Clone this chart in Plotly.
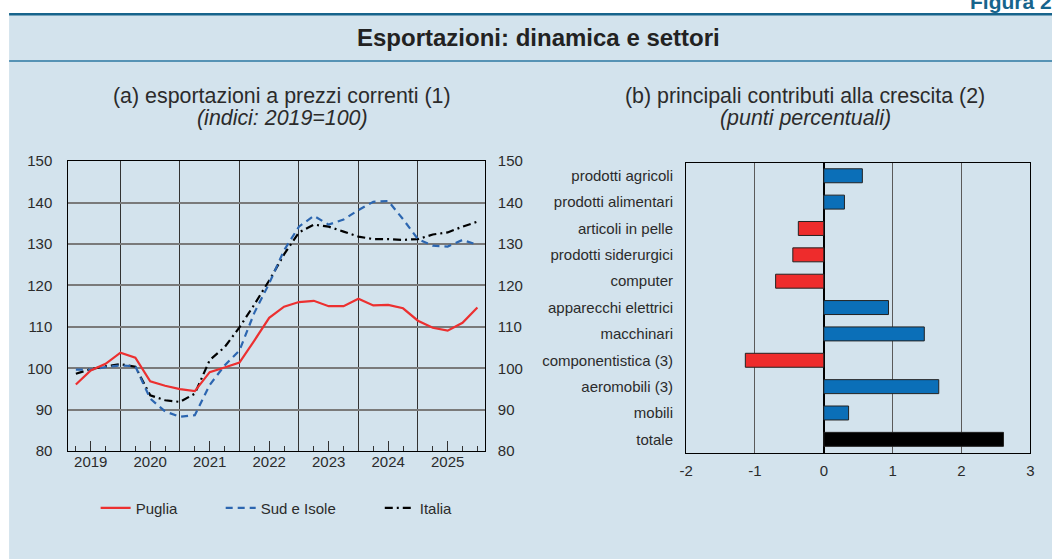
import plotly.graph_objects as go

# ---------------- data ----------------
years = ["2019", "2020", "2021", "2022", "2023", "2024", "2025"]
quarter_index = list(range(28))  # quarterly observations

puglia = [96.1, 99.5, 101.1, 103.8, 102.6, 96.9, 95.8, 95.0, 94.5, 99.1,
          100.2, 101.4, 106.7, 112.2, 114.9, 116.0, 116.3, 115.0, 115.0, 116.8,
          115.2, 115.3, 114.5, 111.5, 109.8, 109.1, 111.0, 114.7]
sud_isole = [99.7, 99.7, 100.3, 100.7, 100.5, 92.7, 89.6, 88.3, 88.7, 96.0,
             100.7, 104.3, 113.4, 120.5, 128.5, 134.2, 136.8, 134.7, 135.9, 138.2,
             140.2, 140.4, 136.0, 131.2, 129.6, 129.4, 131.0, 129.8]
italia = [98.7, 99.8, 100.5, 101.0, 100.4, 93.5, 92.3, 91.9, 93.9, 102.0,
          105.1, 109.9, 115.4, 121.2, 127.5, 132.8, 134.7, 134.2, 133.0, 131.8,
          131.2, 131.2, 131.0, 131.2, 132.3, 132.8, 134.2, 135.4]

y_ticks = [80, 90, 100, 110, 120, 130, 140, 150]

sectors = ["prodotti agricoli", "prodotti alimentari", "articoli in pelle",
           "prodotti siderurgici", "computer", "apparecchi elettrici", "macchinari",
           "componentistica (3)", "aeromobili (3)", "mobili", "totale"]
contributi = [0.56, 0.30, -0.37, -0.45, -0.70, 0.94, 1.46, -1.14, 1.67, 0.36, 2.61]
x_ticks_b = [-2, -1, 0, 1, 2, 3]

# ---------------- styling ----------------
# photographed frame: page content appears offset by 8px and is fitted to 1052x559,
# so layout positions (given in target pixels) are converted here
OFF = 8
SX, SY = 1.011, 575 / 559
W, H = 1060, 567
FONT = "Arial, Liberation Sans, sans-serif"
TXT = "#2b2b2b"
BG = "#d3e3ed"
RED = "#ec3030"
BLUE = "#2c66b0"
BAR_BLUE = "#0b6fb8"
BAR_RED = "#ee2c2c"


def px(x):
    """target pixel -> paper x"""
    return (x * SX - OFF) / W


def py(y):
    """target pixel -> paper y"""
    return 1 - (y * SY - OFF) / H


year_pos = [1 + 4 * i for i in range(len(years))]
year_bounds = [3 + 4 * i for i in range(len(years) - 1)]

fig = go.Figure()

fig.add_trace(go.Scatter(x=quarter_index, y=italia, name="Italia", mode="lines",
                         line=dict(color="#000000", width=2.2, dash="8px,4px,2px,4px"),
                         legend="legend3", xaxis="x", yaxis="y"))
fig.add_trace(go.Scatter(x=quarter_index, y=sud_isole, name="Sud e Isole", mode="lines",
                         line=dict(color=BLUE, width=2.2, dash="7px,5px"),
                         legend="legend2", xaxis="x", yaxis="y"))
fig.add_trace(go.Scatter(x=quarter_index, y=puglia, name="Puglia", mode="lines",
                         line=dict(color=RED, width=2.2),
                         legend="legend", xaxis="x", yaxis="y"))
# invisible helper trace that activates the overlay axes (year labels, right-hand y scale)
fig.add_trace(go.Scatter(x=quarter_index, y=puglia, mode="lines", opacity=0,
                         showlegend=False, hoverinfo="skip",
                         line=dict(width=0), xaxis="x2", yaxis="y2"))

bar_colors = ["#000000" if s == "totale" else (BAR_BLUE if v > 0 else BAR_RED)
              for s, v in zip(sectors, contributi)]
fig.add_trace(go.Bar(x=contributi, y=sectors, orientation="h",
                     marker=dict(color=bar_colors, line=dict(color="#222222", width=1)),
                     showlegend=False, xaxis="x3", yaxis="y3"))

left_dom_x = [px(69.3), px(485.5)]
left_dom_y = [py(451.0), py(160.3)]
right_dom_x = [px(686.7), px(1030.7)]
right_dom_y = [py(452.3), py(161.7)]

tickfont = dict(family=FONT, size=15, color=TXT)

fig.update_layout(
    width=W, height=H,
    margin=dict(l=0, r=0, t=0, b=0),
    paper_bgcolor="#ffffff",
    plot_bgcolor="#ffffff",
    font=dict(family=FONT, color=TXT),
    bargap=0.47,
    xaxis=dict(domain=left_dom_x, range=[-0.5, 27.5], tickmode="array",
               tickvals=year_bounds, showticklabels=False, ticks="",
               showgrid=True, gridcolor="#333333", gridwidth=1,
               zeroline=False, showline=True, linecolor="#000000", linewidth=1.2,
               mirror=True, anchor="y"),
    yaxis=dict(domain=left_dom_y, range=[80, 150], tickmode="array", tickvals=y_ticks,
               showgrid=True, gridcolor="#7a7a7a", gridwidth=1.5, zeroline=False,
               showline=True, linecolor="#000000", linewidth=1.2, mirror=True,
               ticks="", tickfont=tickfont, ticklabelstandoff=12, anchor="x"),
    xaxis2=dict(overlaying="x", anchor="y2", range=[-0.5, 27.5], tickmode="array",
                tickvals=year_pos, ticktext=years, ticks="inside", ticklen=10,
                tickcolor="#333333", tickwidth=1,
                minor=dict(tickmode="linear", tick0=0, dtick=1, ticks="inside",
                           ticklen=5, tickcolor="#333333", tickwidth=1, showgrid=False),
                showgrid=False, zeroline=False, showline=False, tickfont=tickfont),
    yaxis2=dict(overlaying="y", side="right", anchor="x2", range=[80, 150],
                tickmode="array", tickvals=y_ticks, showgrid=False, zeroline=False,
                showline=False, ticks="", tickfont=tickfont, ticklabelstandoff=12),
    xaxis3=dict(domain=right_dom_x, range=[-2, 3], tickmode="array", tickvals=x_ticks_b,
                ticktext=[str(v) for v in x_ticks_b],
                showgrid=True, gridcolor="#5a5a5a", gridwidth=1.2, zeroline=True,
                zerolinecolor="#000000", zerolinewidth=1.5, showline=True,
                linecolor="#000000", linewidth=1.2, mirror=True, ticks="",
                tickfont=tickfont, ticklabelstandoff=4, anchor="y3"),
    yaxis3=dict(domain=right_dom_y, type="category", categoryorder="array",
                categoryarray=sectors, autorange="reversed", showgrid=False,
                zeroline=False, showline=True, linecolor="#000000", linewidth=1.2,
                mirror=True, ticks="", tickfont=tickfont, ticklabelstandoff=9,
                anchor="x3"),
)

legend_common = dict(orientation="h", yanchor="middle", xanchor="left",
                     bgcolor="rgba(0,0,0,0)", borderwidth=0,
                     font=dict(family=FONT, size=15, color=TXT))
fig.update_layout(
    legend=dict(x=px(96.5), y=py(508), **legend_common),
    legend2=dict(x=px(221.5), y=py(508), **legend_common),
    legend3=dict(x=px(380.5), y=py(508), **legend_common),
)

shapes = [
    dict(type="rect", xref="paper", yref="paper", x0=px(10), x1=1, y0=0, y1=py(13),
         fillcolor=BG, line=dict(width=0), layer="below"),
    dict(type="line", xref="paper", yref="paper", x0=px(10), x1=1, y0=py(13), y1=py(13),
         line=dict(color="#17648c", width=2.5), layer="above"),
    dict(type="line", xref="paper", yref="paper", x0=px(10), x1=1, y0=py(60), y1=py(60),
         line=dict(color="#2d78a2", width=1.5), layer="above"),
]
fig.update_layout(shapes=shapes)

annotations = [
    dict(text="<b>Figura 2.</b>", x=px(968), y=py(14), xref="paper", yref="paper",
         xanchor="left", yanchor="bottom", showarrow=False,
         font=dict(family=FONT, size=21, color="#17648c")),
    dict(text="<b>Esportazioni: dinamica e settori</b>", x=px(539), y=py(36),
         xref="paper", yref="paper", xanchor="center", yanchor="middle", showarrow=False,
         font=dict(family=FONT, size=24, color="#222222")),
    dict(text="(a) esportazioni a prezzi correnti (1)", x=px(283), y=py(95),
         xref="paper", yref="paper", xanchor="center", yanchor="middle", showarrow=False,
         font=dict(family=FONT, size=21.4, color=TXT)),
    dict(text="<i>(indici: 2019=100)</i>", x=px(283), y=py(117),
         xref="paper", yref="paper", xanchor="center", yanchor="middle", showarrow=False,
         font=dict(family=FONT, size=21.4, color=TXT)),
    dict(text="(b) principali contributi alla crescita (2)", x=px(806), y=py(95),
         xref="paper", yref="paper", xanchor="center", yanchor="middle", showarrow=False,
         font=dict(family=FONT, size=21.4, color=TXT)),
    dict(text="<i>(punti percentuali)</i>", x=px(806), y=py(117),
         xref="paper", yref="paper", xanchor="center", yanchor="middle", showarrow=False,
         font=dict(family=FONT, size=21.4, color=TXT)),
]
fig.update_layout(annotations=annotations)

fig.write_html("out.html", config={"displayModeBar": False},
               post_script="document.body.style.margin='0';document.body.style.overflow='hidden';")
